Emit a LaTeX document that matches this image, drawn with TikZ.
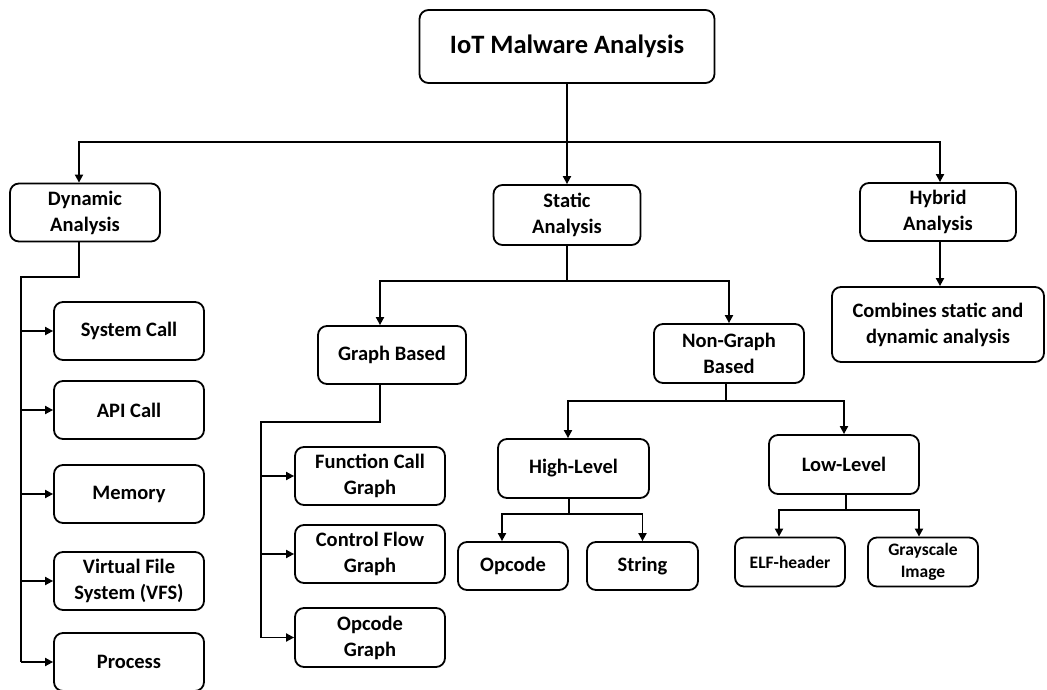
\documentclass[tikz,border=0pt]{standalone}
\usepackage{fontspec}
\setmainfont{Carlito}
\usepackage{tikz}
\usetikzlibrary{arrows.meta,positioning,calc}

\begin{document}
\begin{tikzpicture}[
  x=1pt, y=-1pt,
  font=\bfseries\fontsize{20.5}{26}\selectfont,
  box/.style={draw, line width=1.8pt, rounded corners=9pt, align=center,
    inner sep=2pt, minimum width=150pt, minimum height=58pt},
  small/.style={box, minimum width=110pt, minimum height=49pt,
    font=\bfseries\fontsize{17.5}{22}\selectfont},
  line/.style={line width=1.8pt},
  arr/.style={line, -{Triangle[length=8pt, width=8pt]}},
]
  \path[use as bounding box, clip] (0,0) rectangle (1047,690);

  \node[box, minimum width=295pt, minimum height=73pt,
    font=\bfseries\fontsize{26.5}{30}\selectfont] (root) at (567,46.5) {IoT Malware Analysis};

  % first level
  \node[box] (dyn) at (85,212.5) {Dynamic\\Analysis};
  \node[box, minimum width=147pt, minimum height=60pt] (stat) at (567,215) {Static\\Analysis};
  \node[box, minimum width=156pt] (hyb) at (938,212) {Hybrid\\Analysis};
  \node[box, minimum width=212pt, minimum height=75pt] (comb) at (938,324.5)
    {Combines static and\\dynamic analysis};

  % dynamic analysis
  \node[box] (sys) at (129,331) {System Call};
  \node[box] (api) at (129,410) {API Call};
  \node[box] (mem) at (129,494) {Memory};
  \node[box] (vfs) at (129,581) {Virtual File\\System (VFS)};
  \node[box] (proc) at (129,662) {Process};

  % static analysis
  \node[box, minimum width=148pt] (gb) at (392,355) {Graph Based};
  \node[box, minimum height=59pt] (ngb) at (729,353.5) {Non-Graph\\Based};
  \node[box] (fcg) at (370,476) {Function Call\\Graph};
  \node[box] (cfg) at (370,554) {Control Flow\\Graph};
  \node[box, minimum height=59pt] (ogr) at (370,637.5) {Opcode\\Graph};
  \node[box, minimum width=151pt, minimum height=59pt] (hl) at (573.5,468.5) {High-Level};
  \node[box, minimum height=59pt] (ll) at (844,464.5) {Low-Level};
  \node[box, minimum width=110pt, minimum height=48pt] (opc) at (513,566) {Opcode};
  \node[box, minimum width=111pt, minimum height=48pt] (str) at (642.5,566) {String};
  \node[small] (elf) at (790,562) {ELF-header};
  \node[small] (gray) at (923,562) {Grayscale\\Image};

  % connectors
  \draw[arr] (root.south) -- (stat.north);
  \path (root.south) ++(0,58) coordinate (rbar);
  \draw[arr] (rbar) -| ([xshift=-6pt]dyn.north);
  \draw[arr] (rbar) -| ([xshift=2pt]hyb.north);
  \draw[arr] ([xshift=2pt]hyb.south) -- ([xshift=2pt]comb.north);

  \coordinate (dtrunk) at (21,277);
  \draw[line] ([xshift=-6pt]dyn.south) |- (dtrunk) -- (dtrunk |- proc.west);
  \foreach \n in {sys,api,mem,vfs,proc}
    \draw[arr] (dtrunk |- \n.west) -- (\n.west);

  \draw[line] (stat.south) -- ++(0,35) coordinate (sbar);
  \draw[arr] (sbar) -| ([xshift=-12pt]gb.north);
  \draw[arr] (sbar) -| (ngb.north);

  \coordinate (gtrunk) at (261,422);
  \draw[line] ([xshift=-12pt]gb.south) |- (gtrunk) -- (gtrunk |- ogr.west);
  \foreach \n in {fcg,cfg,ogr}
    \draw[arr] (gtrunk |- \n.west) -- (\n.west);

  \draw[line] ([xshift=-3pt]ngb.south) -- ++(0,17) coordinate (nbar);
  \draw[arr] (nbar) -| ([xshift=-5.5pt]hl.north);
  \draw[arr] (nbar) -| (ll.north);

  \draw[line] ([xshift=-4.5pt]hl.south) -- ++(0,15) coordinate (hbar);
  \draw[arr] (hbar) -| ([xshift=-11pt]opc.north);
  \draw[arr] (hbar) -| (str.north);

  \draw[line] ([xshift=2pt]ll.south) -- ++(0,15) coordinate (lbar);
  \draw[arr] (lbar) -| ([xshift=-11pt]elf.north);
  \draw[arr] (lbar) -| ([xshift=-4pt]gray.north);
\end{tikzpicture}
\end{document}
